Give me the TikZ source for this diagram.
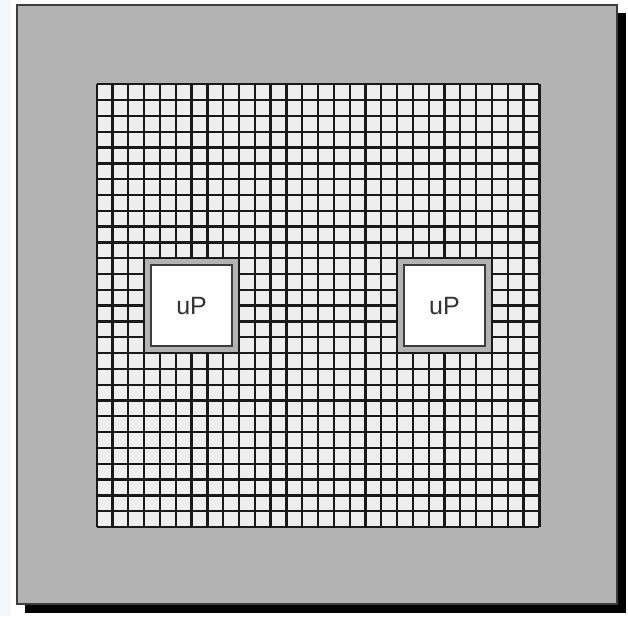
\documentclass[tikz,border=0pt]{standalone}
\usepackage{fontspec}
\setmainfont{Liberation Sans}
\usepackage{tikz}
\usetikzlibrary{calc,positioning}
\definecolor{ChipGray}{HTML}{B3B3B3}
\definecolor{ChipEdge}{HTML}{3C3C3C}
\definecolor{CellFill}{HTML}{EEEEEE}
\definecolor{PageTint}{HTML}{F2F7F9}
\begin{document}
\begin{tikzpicture}[x=1pt,y=-1pt,font=\fontsize{25pt}{27pt}\selectfont,
    die/.style={draw=ChipEdge,fill=ChipGray,line width=2pt},
    gridline/.style={draw=black!90,line width=2.3pt},
    pad/.style={draw=black!90,fill=ChipGray,line width=2.3pt,minimum size=94.9pt,inner sep=0pt},
    core/.style={draw=ChipEdge,fill=white,line width=2.4pt,minimum size=81pt,inner sep=0pt}]
    \useasboundingbox (0,0) rectangle (628,616);
    \fill[PageTint] (0,0) rectangle (11,616);
    \fill[black] (25,13) rectangle (626,613);
    \draw[die] (17,5) rectangle (617,604);
    % fabric: 28 x 28 cells
    \coordinate (g0) at (96.7,84.3);
    \fill[CellFill] (g0) rectangle ++(442.7,442.7);
    \foreach \i in {0,...,28}{
      \draw[gridline] ($(g0)+(\i*15.81,0)$) -- ++(0,442.7);
      \draw[gridline] ($(g0)+(0,\i*15.81)$) -- ++(442.7,0);
    }
    \node[pad] (padL) at ($(g0)+(94.86,221.4)$) {};
    \node[pad] (padR) at ($(g0)+(347.8,221.4)$) {};
    \node[core,text=black!80] (upL) at (padL) {uP};
    \node[core,text=black!80] (upR) at (padR) {uP};
  \end{tikzpicture}
\end{document}
